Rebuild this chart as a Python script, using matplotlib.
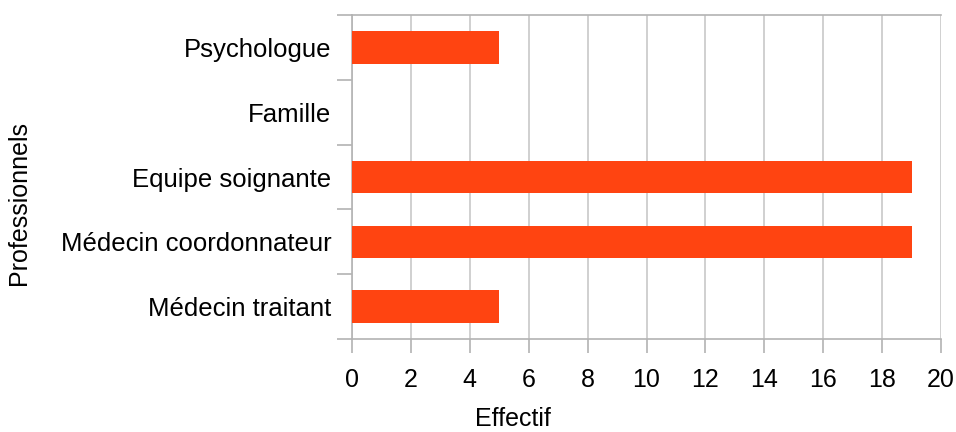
import matplotlib.pyplot as plt
import numpy as np

plt.rcParams['font.family'] = ['Liberation Sans', 'DejaVu Sans']

professionnels = ["Médecin traitant", "Médecin coordonnateur", "Equipe soignante",
                  "Famille", "Psychologue"]
effectif = [5, 19, 19, 0, 5]
x_ticks = list(range(0, 21, 2))

grey = "#b3b3b3"

fig = plt.figure(figsize=(9.56, 4.32), dpi=100)
ax = fig.add_axes([352 / 956, 93 / 432, 589 / 956, 324 / 432])

pos = np.arange(len(professionnels))
ax.barh(pos, effectif, height=0.5, color="#ff4411", zorder=3)

ax.set_xlim(0, 20)
ax.set_ylim(-0.5, len(professionnels) - 0.5)
ax.set_xticks(x_ticks)
ax.set_xticklabels([str(v) for v in x_ticks], fontsize=18)

# category labels sit between the boundary ticks
ax.set_yticks(np.arange(-0.5, len(professionnels)), minor=False)
ax.set_yticklabels([])
ax.set_yticks(pos, minor=True)
ax.set_yticklabels(professionnels, minor=True, fontsize=18.5)
ax.tick_params(axis="y", which="minor", length=0, pad=15)
ax.tick_params(axis="y", which="major", length=11, width=1.2, color=grey)
ax.tick_params(axis="x", length=10, width=1.2, color=grey, pad=11)

ax.grid(axis="x", color="#c8c8c8", linewidth=1.2, zorder=0)
for side in ["left", "bottom", "top"]:
    ax.spines[side].set_color(grey)
    ax.spines[side].set_linewidth(1.2)
ax.spines["right"].set_visible(False)

fig.text(513 / 956, 0.002, "Effectif", ha="center", va="bottom", fontsize=18)
fig.text(19 / 956, 1 - 203 / 432, "Professionnels", ha="center", va="center",
         rotation=90, fontsize=18)

fig.savefig("out.png", dpi=100)
